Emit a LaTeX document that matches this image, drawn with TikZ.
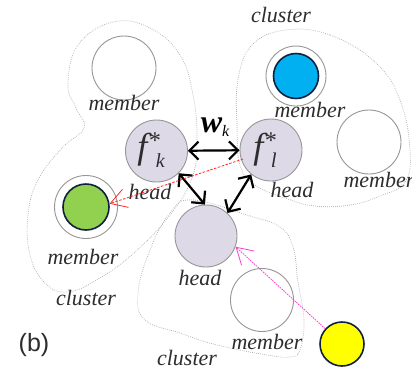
\documentclass[tikz,border=0pt]{standalone}
\usepackage{fontspec}
\setmainfont{Liberation Serif}
\newfontfamily\panelfont{Liberation Sans}
\usetikzlibrary{arrows.meta}

\definecolor{headfill}{RGB}{221,217,231}
\definecolor{ringgray}{RGB}{150,150,150}
\definecolor{dotgray}{RGB}{165,170,180}
\definecolor{darkedge}{RGB}{16,32,64}
\definecolor{memgreen}{RGB}{146,208,80}
\definecolor{memblue}{RGB}{0,176,240}
\definecolor{memyellow}{RGB}{255,255,0}
\definecolor{txtgray}{RGB}{45,45,45}
\definecolor{linkred}{RGB}{255,40,40}
\definecolor{linkpink}{RGB}{255,60,200}

\begin{document}
\begin{tikzpicture}[x=1pt,y=-1pt,
  lbl/.style={font=\fontsize{22}{22}\selectfont\itshape, text=txtgray, inner sep=0pt},
  headnode/.style={circle, draw=ringgray, fill=headfill, line width=0.9pt, minimum size=62pt, inner sep=0pt},
  membernode/.style={circle, draw=ringgray, fill=white, line width=0.9pt, minimum size=63pt, inner sep=0pt},
  colornode/.style={circle, draw=darkedge, line width=1.6pt, inner sep=0pt},
  clusterline/.style={draw=dotgray, line width=0.7pt, dash pattern=on 0.7pt off 1.3pt},
  link/.style={line width=2.2pt, black,
    {Straight Barb[length=9pt,width=18pt,line width=2.2pt]}-{Straight Barb[length=9pt,width=18pt,line width=2.2pt]}},
  redlink/.style={linkred, line width=0.8pt, dash pattern=on 2.5pt off 1.5pt,
    -{Straight Barb[length=16pt,width=19pt,line width=0.8pt]}},
  pinklink/.style={linkpink, line width=0.8pt, dash pattern=on 1.5pt off 1pt,
    -{Straight Barb[length=16pt,width=19pt,line width=0.8pt]}}
]
\useasboundingbox (0,0) rectangle (412,368);
\fill[white] (0,0) rectangle (412,368);

% cluster outlines
\draw[clusterline] plot[smooth cycle, tension=0.7] coordinates {
  (113,22) (150,28) (180,55) (193,95) (197,140) (192,178) (170,215)
  (135,252) (100,278) (68,292) (45,283) (30,255) (28,215) (38,180)
  (62,148) (84,128) (76,108) (68,85) (78,45)};
\draw[clusterline] plot[smooth cycle, tension=0.7] coordinates {
  (286,30) (330,35) (375,62) (400,100) (410,150) (405,182) (380,196)
  (350,205) (315,206) (285,198) (255,185) (240,165) (237,125) (238,80) (252,45)};
\draw[clusterline] plot[smooth cycle, tension=0.7] coordinates {
  (193,200) (250,216) (280,227) (293,247) (298,282) (304,320) (300,350)
  (290,357) (267,355) (217,345) (180,333) (145,320) (138,293) (150,250)
  (170,213)};

% member circles
\node[membernode, minimum size=64pt] (m1) at (124,68) {};
\node[membernode, minimum size=64pt] (m3) at (369,142) {};
\node[membernode] (m4) at (262,300) {};
\node[membernode] (gm) at (86,207) {};
\node[colornode, fill=memgreen, minimum size=46pt] (gin) at (86,207) {};
\node[membernode, minimum size=60pt] (bm) at (296,76) {};
\node[colornode, fill=memblue, minimum size=45pt] (bin) at (296,76) {};
\node[colornode, fill=memyellow, minimum size=44pt] (yel) at (342,344) {};

% cluster heads
\node[headnode] (fk) at (156.5,151) {};
\node[headnode] (fl) at (271,150) {};
\node[headnode] (hb) at (206,236) {};

% head symbols
\node[inner sep=0pt, text=txtgray] (fklbl) at (151,150)
  {\fontsize{36}{36}\selectfont\itshape f\kern0.5pt\raisebox{10pt}{\fontsize{24}{24}\selectfont *}\kern-4pt\raisebox{-9pt}{\fontsize{20}{20}\selectfont\itshape k}};
\node[inner sep=0pt, text=txtgray] (fllbl) at (265,150)
  {\fontsize{36}{36}\selectfont\itshape f\kern0.5pt\raisebox{10pt}{\fontsize{24}{24}\selectfont *}\kern-5pt\raisebox{-9pt}{\fontsize{21}{21}\selectfont\itshape l}};
\node[inner sep=0pt, text=black] (wk) at (215,127)
  {\fontsize{32}{32}\selectfont\bfseries\itshape w\raisebox{-4pt}{\fontsize{16}{16}\selectfont\mdseries\itshape k}};

% text labels
\node[lbl] (t1) at (124,103) {member};
\node[lbl] (t2) at (150,192) {head};
\node[lbl] (t3) at (292,190) {head};
\node[lbl] (t4) at (200,278) {head};
\node[lbl] (t5) at (83,257) {member};
\node[lbl] (t6) at (86,298) {cluster};
\node[lbl] (t7) at (310,110) {member};
\node[lbl] (t8) at (379,180) {member};
\node[lbl] (t9) at (281,15) {cluster};
\node[lbl] (t10) at (267,342) {member};
\node[lbl] (t11) at (187,358) {cluster};
\node[inner sep=0pt, text=txtgray, font=\panelfont\fontsize{25}{25}\selectfont] (panel) at (34,345) {(b)};

% links between heads
\draw[link] (fk) -- (fl);
\draw[link] (fk.-45) -- (hb.92);
\draw[link] (fl.231) -- (hb.47);

% assignment links
\coordinate (rs) at (243,159);
\draw[redlink] (rs) -- (gin.8);
\draw[pinklink] (yel) -- (hb.-20);
\end{tikzpicture}
\end{document}
